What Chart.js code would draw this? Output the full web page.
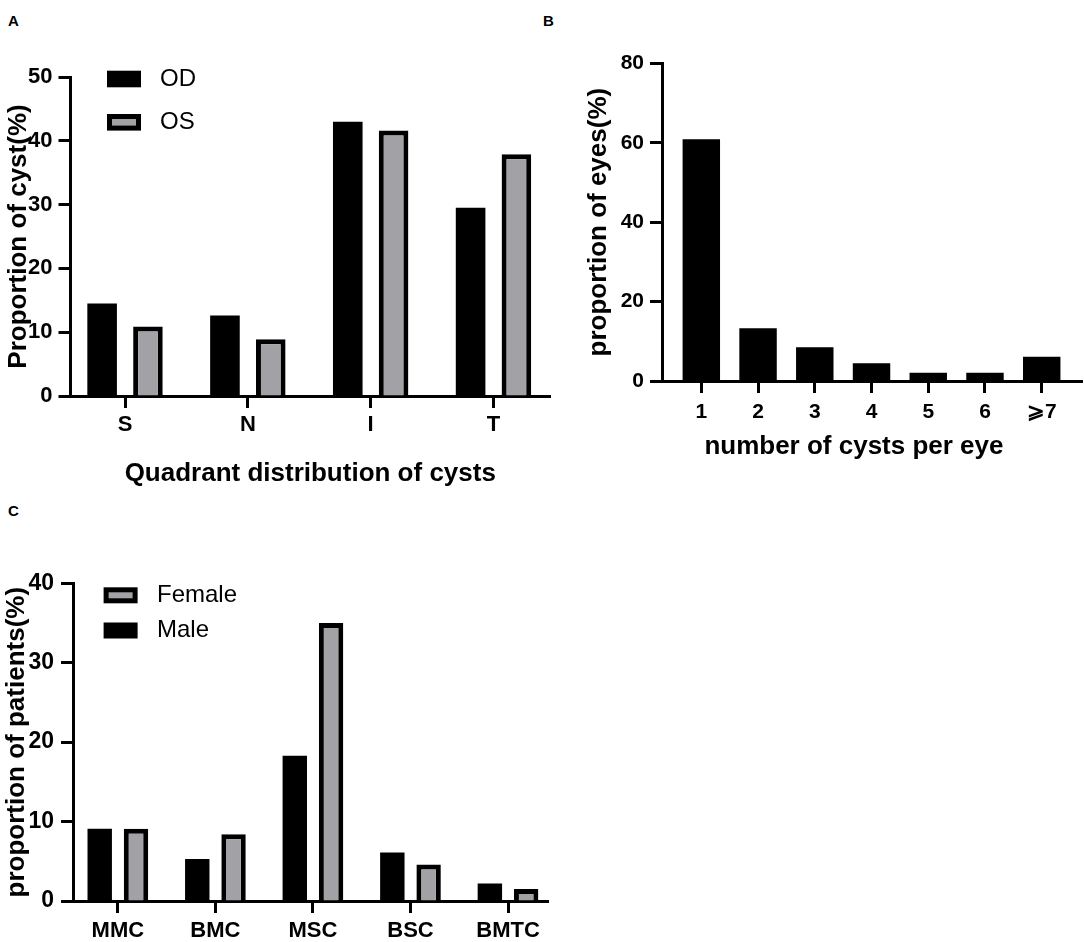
<!DOCTYPE html>
<html>
<head>
<meta charset="utf-8">
<script src="https://cdn.jsdelivr.net/npm/chart.js@4.4.1/dist/chart.umd.min.js"></script>
<style>
html,body{margin:0;padding:0;background:#fff;width:1084px;height:942px;overflow:hidden;}
canvas{position:absolute;left:0;top:0;}
.lbl{position:absolute;font-family:'Liberation Sans',Arial,sans-serif;font-weight:bold;font-size:15px;line-height:15px;color:#000;}
</style>
</head>
<body>
<div class="lbl" style="left:8px;top:13px">A</div>
<div class="lbl" style="left:543px;top:13px">B</div>
<div class="lbl" style="left:8px;top:503px">C</div>
<canvas id="chartA" width="1084" height="942"></canvas>
<canvas id="chartB" width="1084" height="942"></canvas>
<canvas id="chartC" width="1084" height="942"></canvas>
<script>
// ---------- data ----------
const quadrantLabels = ['S', 'N', 'I', 'T'];
const odValues = [14.5, 12.6, 43.0, 29.5];
const osValues = [10.9, 8.9, 41.6, 37.9];
const quadrantTicks = [0, 10, 20, 30, 40, 50];

const cystCountLabels = ['1', '2', '3', '4', '5', '6', '\u2A7E7'];
const eyeProportion = [60.9, 13.3, 8.5, 4.5, 2.1, 2.1, 6.1];
const eyeTicks = [0, 20, 40, 60, 80];

const typeLabels = ['MMC', 'BMC', 'MSC', 'BSC', 'BMTC'];
const maleValues = [9.1, 5.3, 18.3, 6.1, 2.2];
const femaleValues = [9.1, 8.4, 35.0, 4.6, 1.5];
const patientTicks = [0, 10, 20, 30, 40];

// ---------- styling ----------
const FONT = "'Liberation Sans', Arial, sans-serif";
const BLACK = '#000000';
const GRAY = '#a2a2a6';
Chart.defaults.font.family = FONT;
Chart.defaults.color = BLACK;

const boxLegend = {
  id: 'boxLegend',
  afterDraw(chart, args, opts) {
    if (!opts || !opts.items) return;
    const ctx = chart.ctx;
    opts.items.forEach(it => {
      const ds = chart.data.datasets[it.dataset];
      const x = opts.boxX, y = it.y - opts.boxH / 2, w = opts.boxW, h = opts.boxH;
      ctx.save();
      const b = ds.borderWidth || 0;
      ctx.fillStyle = b ? ds.borderColor : ds.backgroundColor;
      ctx.fillRect(x, y, w, h);
      if (b) {
        ctx.fillStyle = ds.backgroundColor;
        ctx.fillRect(x + b, y + b, w - 2 * b, h - 2 * b);
      }
      ctx.fillStyle = BLACK;
      ctx.font = opts.font;
      ctx.textBaseline = 'middle';
      ctx.textAlign = 'left';
      ctx.fillText(ds.label, opts.textX, it.y);
      ctx.restore();
    });
  }
};

function axisLine() {
  return {
    grid: { display: true, offset: false, drawOnChartArea: false, drawTicks: true, tickLength: 12, tickWidth: 3, tickColor: BLACK },
    border: { display: true, width: 3, color: BLACK }
  };
}

function makePanel(id, p) {
  const datasets = p.series.map(s => ({
    label: s.name,
    data: s.values.map((v, i) => ({ x: i, y: v })),
    backgroundColor: s.fill,
    borderColor: BLACK,
    borderWidth: s.border,
    borderSkipped: 'start',
    categoryPercentage: p.catPct,
    barPercentage: p.barPct
  }));
  const yTicks = p.yTicks;
  return new Chart(document.getElementById(id), {
    type: 'bar',
    data: { datasets },
    plugins: [boxLegend],
    options: {
      responsive: false,
      animation: false,
      events: [],
      layout: {
        padding: {
          left: p.area.l - p.yW,
          top: p.area.t,
          right: 1084 - p.area.r,
          bottom: 942 - p.area.b - p.xH
        }
      },
      plugins: {
        legend: { display: false },
        tooltip: { enabled: false },
        boxLegend: p.legend || {}
      },
      scales: {
        x: Object.assign(axisLine(), {
          type: 'linear',
          bounds: 'data',
          offset: false,
          min: p.xMin,
          max: p.xMax,
          afterBuildTicks: s => { s.ticks = p.labels.map((_, i) => ({ value: i })); },
          afterFit: s => { s.height = p.xH; },
          ticks: {
            autoSkip: false, maxRotation: 0, minRotation: 0,
            color: BLACK, padding: p.xTickPad,
            font: { size: p.xTickSize, weight: 'bold' },
            callback: v => p.labels[v]
          },
          title: {
            display: !!p.xTitle, text: p.xTitle || '', color: BLACK, padding: 0,
            font: { size: 26, weight: 'bold', lineHeight: 1 }
          }
        }),
        y: Object.assign(axisLine(), {
          min: yTicks[0],
          max: yTicks[yTicks.length - 1],
          afterBuildTicks: s => { s.ticks = yTicks.map(v => ({ value: v })); },
          afterFit: s => { s.width = p.yW; },
          ticks: {
            color: BLACK, padding: p.yTickPad,
            font: { size: p.yTickSize, weight: 'bold' }
          },
          title: {
            display: true, text: p.yTitle, color: BLACK, padding: 0,
            font: { size: 26, weight: 'bold', lineHeight: 1 }
          }
        })
      }
    }
  });
}

// Panel A
makePanel('chartA', {
  labels: quadrantLabels,
  series: [
    { name: 'OD', values: odValues, fill: BLACK, border: 0 },
    { name: 'OS', values: osValues, fill: GRAY, border: 5 }
  ],
  yTicks: quadrantTicks,
  area: { l: 70.5, t: 77, r: 550, b: 396 },
  yW: 64.2, xH: 91,
  xMin: -0.444, xMax: 3.46,
  catPct: 0.746, barPct: 0.646,
  xTickPad: 4, yTickPad: 6, xTickSize: 22, yTickSize: 22,
  yTitle: 'Proportion of cyst(%)',
  xTitle: 'Quadrant distribution of cysts',
  legend: {
    boxX: 107, boxW: 34, boxH: 16.6, textX: 160,
    font: "normal 24px " + FONT,
    items: [{ dataset: 0, y: 79 }, { dataset: 1, y: 122.3 }]
  }
});

// Panel B
makePanel('chartB', {
  labels: cystCountLabels,
  series: [
    { name: 'eyes', values: eyeProportion, fill: BLACK, border: 0 }
  ],
  yTicks: eyeTicks,
  area: { l: 662, t: 63.3, r: 1082, b: 381 },
  yW: 76.5, xH: 79,
  xMin: -0.693, xMax: 6.71,
  catPct: 0.8, barPct: 0.825,
  xTickPad: 7, yTickPad: 6, xTickSize: 21, yTickSize: 21,
  yTitle: 'proportion of eyes(%)',
  xTitle: 'number of cysts per eye     '
});

// Panel C
makePanel('chartC', {
  labels: typeLabels,
  series: [
    { name: 'Male', values: maleValues, fill: BLACK, border: 0 },
    { name: 'Female', values: femaleValues, fill: GRAY, border: 5 }
  ],
  yTicks: patientTicks,
  area: { l: 73, t: 583.3, r: 548, b: 901 },
  yW: 69, xH: 41,
  xMin: -0.46, xMax: 4.41,
  catPct: 0.744, barPct: 0.673,
  xTickPad: 4.6, yTickPad: 7, xTickSize: 22, yTickSize: 23,
  yTitle: 'proportion of patients(%)',
  xTitle: '',
  legend: {
    boxX: 103.6, boxW: 34, boxH: 16, textX: 157,
    font: "normal 24px " + FONT,
    items: [{ dataset: 1, y: 595.3 }, { dataset: 0, y: 630.5 }]
  }
});
</script>
</body>
</html>
